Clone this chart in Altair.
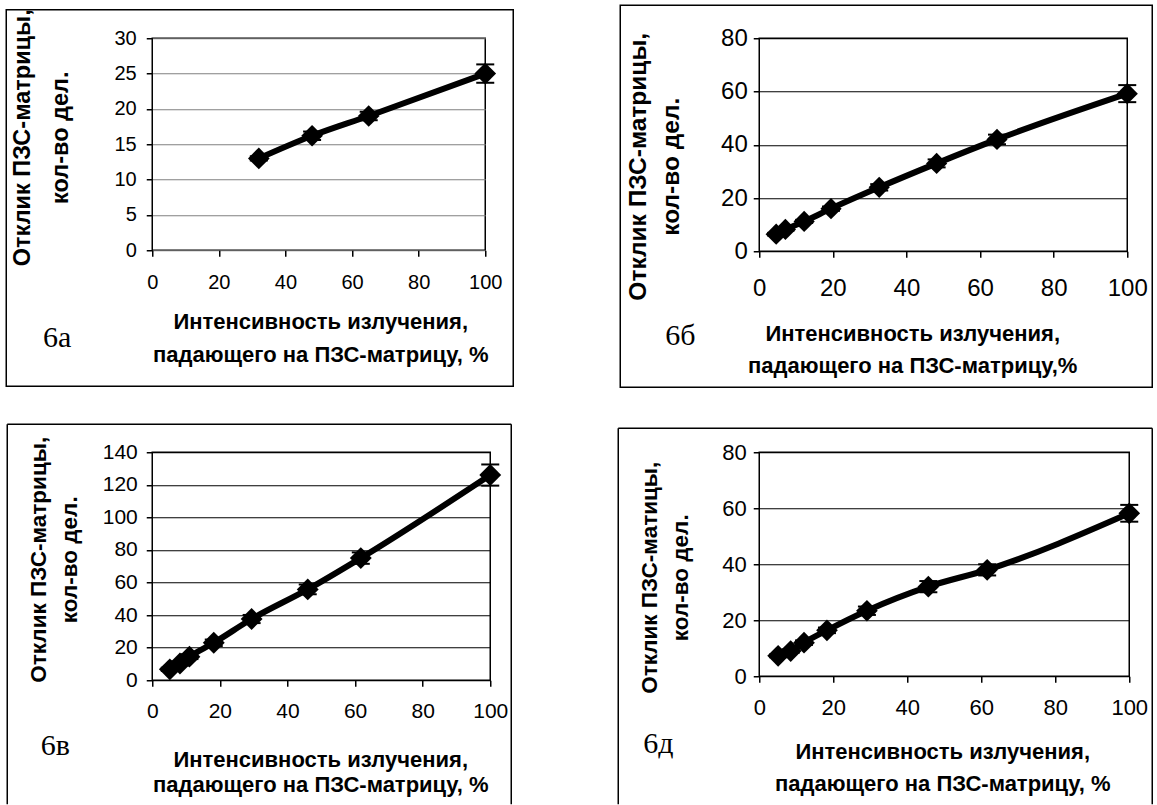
import altair as alt
import pandas as pd

# ---------------- data ----------------
panel_labels = ["6а", "6б", "6в", "6д"]

xa = [32, 48, 65, 100]
ya = [13, 16.2, 19, 25]
ea = [0.3, 0.6, 0.6, 1.3]

xb = [4.6, 7.1, 12.2, 19.5, 32.6, 48.2, 64.6, 100]
yb = [6.4, 8.2, 11.2, 16, 24, 33, 42, 59.2]
eb = [0.5, 0.5, 0.6, 0.8, 1.2, 1.5, 1.8, 3.2]

xv = [5.2, 8.2, 11, 18.2, 29.4, 46, 61.7, 100]
yv = [6.7, 10.3, 14.5, 23, 37.6, 55.8, 75, 126]
ev = [1, 1.2, 1.5, 2, 2.5, 3, 3.5, 6.5]

xd = [5.1, 8.5, 12.1, 18.3, 29.1, 45.7, 61.6, 100]
yd = [7.3, 9, 12, 16.4, 23.4, 32, 38, 58.2]
ed = [0.5, 0.6, 0.8, 1, 1.5, 2, 2, 3]

x_ticks = [0, 20, 40, 60, 80, 100]
y_ticks_a = [0, 5, 10, 15, 20, 25, 30]
y_ticks_b = [0, 20, 40, 60, 80]
y_ticks_v = [0, 20, 40, 60, 80, 100, 120, 140]
y_ticks_d = [0, 20, 40, 60, 80]

ytitle_std = ["Отклик ПЗС-матрицы,", "кол-во дел."]
ytitle_d = ["Отклик ПЗС-матицы,", "кол-во дел."]
xtitle_std = ["Интенсивность излучения,", "падающего на ПЗС-матрицу, %"]
xtitle_b = ["Интенсивность излучения,", "падающего на ПЗС-матрицу,%"]

FONT = "Liberation Sans"


def panel(x, y, e, yticks, label, xtitle, ytitle, lay):
    df = pd.DataFrame({
        "x": x, "y": y,
        "lo": [a - b for a, b in zip(y, e)],
        "hi": [a + b for a, b in zip(y, e)],
    })
    one = pd.DataFrame({"k": [0]})
    xs = alt.Scale(domain=[0, 100], nice=False, zero=False)
    ys = alt.Scale(domain=[yticks[0], yticks[-1]], nice=False, zero=False)
    xaxis = alt.Axis(
        values=x_ticks, grid=False, domain=False,
        labelFontSize=lay["lfs"], labelPadding=lay["xpad"], labelFlush=False,
        labelOverlap=False, labelFont=FONT,
        title=xtitle, titleX=lay["xtx"], titleY=lay["xty"], titleAlign="center",
        titleBaseline="middle", titleLineHeight=lay["xlh"], titleFontSize=22,
        titleFont=FONT, titleFontWeight="bold", titleAngle=0,
    )
    yaxis = alt.Axis(
        values=yticks, grid=True, gridColor=lay["grid"], gridWidth=1, domain=False,
        labelFontSize=lay["lfs"], labelPadding=lay["ypad"], labelFlush=False,
        labelOverlap=False, labelFont=FONT,
        title=ytitle, titleX=lay["ytx"], titleY=lay["yty"], titleAlign="center",
        titleBaseline="middle", titleLineHeight=lay["ylh"], titleFontSize=lay["yfs"],
        titleFont=FONT, titleFontWeight="bold", titleAngle=270,
    )
    X = alt.X("x:Q", scale=xs, axis=xaxis)
    base = alt.Chart(df)
    line = base.mark_line(interpolate="monotone", color="black", strokeWidth=6,
                          strokeJoin="round").encode(
        x=X, y=alt.Y("y:Q", scale=ys, axis=yaxis))
    bars = base.mark_rule(color="black", strokeWidth=1.5).encode(
        x=X, y=alt.Y("lo:Q", scale=ys, axis=yaxis), y2="hi:Q")
    cap_lo = base.mark_point(shape="M-1,0L1,0", size=324, filled=False,
                             stroke="black", strokeWidth=2, opacity=1).encode(
        x=X, y=alt.Y("lo:Q", scale=ys, axis=yaxis))
    cap_hi = base.mark_point(shape="M-1,0L1,0", size=324, filled=False,
                             stroke="black", strokeWidth=2, opacity=1).encode(
        x=X, y=alt.Y("hi:Q", scale=ys, axis=yaxis))
    pts = base.mark_point(shape="diamond", size=lay["dsz"], filled=True,
                          color="black", opacity=1).encode(
        x=X, y=alt.Y("y:Q", scale=ys, axis=yaxis))
    txt = alt.Chart(one).mark_text(font="Liberation Serif", fontSize=30,
                                   align="center", baseline="middle",
                                   color="black").encode(
        x=alt.value(lay["lx"]), y=alt.value(lay["ly"]), text=alt.value(label))
    fx1, fx2, fy1, fy2 = lay["frame"]
    if lay["closed"]:
        frame = alt.Chart(one).mark_rect(fillOpacity=0, stroke="black",
                                         strokeWidth=1.5).encode(
            x=alt.value(fx1), x2=alt.value(fx2), y=alt.value(fy1), y2=alt.value(fy2))
        frames = [frame]
    else:
        top = alt.Chart(one).mark_rule(color="black", strokeWidth=1.5).encode(
            x=alt.value(fx1), x2=alt.value(fx2), y=alt.value(fy1))
        left = alt.Chart(one).mark_rule(color="black", strokeWidth=1.5).encode(
            x=alt.value(fx1), y=alt.value(fy1), y2=alt.value(fy2))
        right = alt.Chart(one).mark_rule(color="black", strokeWidth=1.5).encode(
            x=alt.value(fx2), y=alt.value(fy1), y2=alt.value(fy2))
        frames = [top, left, right]
    return alt.layer(line, bars, pts, cap_lo, cap_hi, txt, *frames).properties(
        width=lay["w"], height=lay["h"])


lay_a = dict(w=333, h=212, lfs=20, xpad=16, ypad=10,
             xtx=168, xty=71, xlh=33, ytx=-130, yty=99, ylh=38, yfs=23.5,
             grid="#808080", dsz=470, lx=-95, ly=300,
             frame=(-146, 361, -28.5, 348), closed=True)
lay_b = dict(w=368, h=213, lfs=24, xpad=19, ypad=6,
             xtx=153, xty=82, xlh=32, ytx=-121, yty=128, ylh=33, yfs=24.5,
             grid="#000000", dsz=450, lx=-79, ly=298,
             frame=(-139, 393, -33, 349), closed=True)
lay_v = dict(w=338, h=228, lfs=21, xpad=14, ypad=9,
             xtx=168, xty=79, xlh=25, ytx=-113.5, yty=107, ylh=30.5, yfs=22.5,
             grid="#000000", dsz=480, lx=-97, ly=294,
             frame=(-145, 359, -28, 352), closed=False)
lay_d = dict(w=370, h=224, lfs=22, xpad=15, ypad=7,
             xtx=183, xty=75, xlh=32, ytx=-110, yty=125, ylh=31, yfs=22.5,
             grid="#000000", dsz=470, lx=-101, ly=292,
             frame=(-141, 393, -24, 352), closed=False)

pa = panel(xa, ya, ea, y_ticks_a, panel_labels[0], xtitle_std, ytitle_std, lay_a)
pb = panel(xb, yb, eb, y_ticks_b, panel_labels[1], xtitle_b, ytitle_std, lay_b)
pv = panel(xv, yv, ev, y_ticks_v, panel_labels[2], xtitle_std, ytitle_std, lay_v)
pdd = panel(xd, yd, ed, y_ticks_d, panel_labels[3], xtitle_std, ytitle_d, lay_d)

chart = alt.concat(
    pa, pb, pv, pdd, columns=2,
    spacing={"row": 201, "column": 269}, bounds="flush", center=False,
    align="each",
).properties(
    padding={"left": 4.25, "top": 3.25, "right": 0, "bottom": 0},
    background="white",
).configure_view(
    stroke="black", strokeWidth=1.5
).configure_axis(
    labelColor="black", titleColor="black", tickColor="black", tickSize=6,
    tickWidth=1.5, domainColor="black",
)

chart.save("out.html", embed_options={"renderer": "svg", "actions": False})
